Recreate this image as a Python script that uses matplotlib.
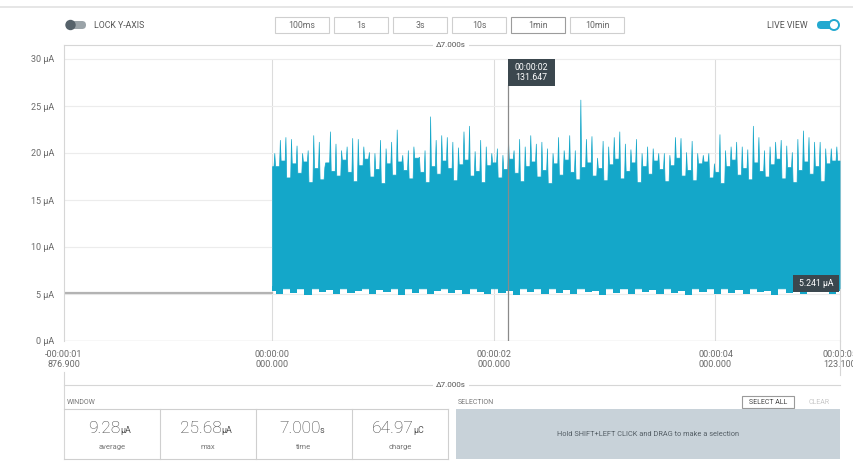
import matplotlib
matplotlib.use("Agg")
import matplotlib.pyplot as plt
from matplotlib.patches import Rectangle, FancyBboxPatch
import numpy as np

plt.rcParams['font.family'] = ['Roboto', 'DejaVu Sans']

# ---- data ------------------------------------------------------------------
T_START = -1.8769          # s, left edge of the 7.000 s window
T_END = 5.1231             # s, right edge
IDLE_CURRENT = 5.1         # uA before the burst starts at t = 0
CURSOR_T = 2.131647
CURSOR_LABEL = "00:00:02\n131.647"
VALUE_LABEL = "5.241 µA"

# spike tops (uA), left to right, evenly spread over 0 .. 5.1 s
peaks = [
    20.0, 21.4, 21.7, 21.5, 20.8, 20.0, 20.3, 21.9, 21.2, 18.5,
    22.3, 21.0, 20.3, 20.7, 21.6, 21.5, 20.7, 20.1, 20.0, 21.4,
    20.5, 21.2, 22.5, 19.8, 20.3, 20.7, 19.6, 20.3, 23.9, 21.4,
    21.9, 21.7, 21.2, 20.6, 22.3, 22.9, 20.2, 21.4, 20.7, 20.0,
    20.5, 19.8, 21.4, 20.3, 21.5, 20.7, 21.9, 21.0, 21.2, 20.5,
    20.0, 21.7, 20.3, 21.9, 20.3, 25.68, 21.5, 21.8, 19.5, 21.3,
    20.7, 21.7, 22.3, 21.0, 20.4, 21.5, 20.0, 20.7, 20.5, 20.0,
    20.0, 19.8, 21.7, 21.6, 20.1, 21.3, 20.0, 19.8, 20.0, 18.9,
    22.0, 20.3, 20.7, 21.2, 20.7, 20.4, 22.9, 21.7, 20.3, 20.7,
    21.2, 21.4, 20.8, 20.1, 21.5, 22.4, 21.7, 21.2, 21.2, 20.5,
    20.5, 20.7,
]
# level of the dense band between neighbouring spikes (uA)
valleys = [
    18.6, 19.2, 17.4, 18.9, 17.9, 19.1, 16.9, 18.4, 17.2, 19.0,
    18.1, 17.6, 19.3, 18.0, 17.0, 18.7, 19.4, 17.5, 18.3, 16.8,
    18.9, 17.7, 19.1, 18.2, 17.3, 19.5, 18.0, 16.9, 18.6, 17.8,
    19.2, 18.4, 17.1, 18.8, 19.3, 17.6, 18.1, 16.9, 18.7, 19.0,
    17.4, 18.3, 19.4, 17.9, 17.0, 18.6, 19.1, 17.5, 18.2, 16.8,
    18.9, 17.7, 19.3, 18.0, 17.2, 18.5, 19.0, 17.6, 18.4, 17.1,
    18.8, 19.4, 17.3, 18.1, 19.0, 16.9, 18.6, 17.8, 19.2, 18.3,
    17.0, 18.7, 19.5, 17.6, 18.2, 17.1, 18.9, 19.1, 17.4, 18.0,
    16.8, 18.6, 19.3, 17.7, 18.4, 17.2, 19.0, 18.1, 17.5, 18.8,
    19.4, 17.3, 18.5, 16.9, 18.2, 19.1, 17.8, 18.6, 17.0, 18.9,
    19.2,
]
# lower edge of the burst (uA)
floor_vals = [
    5.3, 5.0, 5.7, 5.1, 5.5, 4.9, 5.8, 5.2, 5.4, 5.0,
    5.9, 5.1, 5.3, 5.6, 5.0, 5.4, 5.2, 5.8, 4.9, 5.5,
    5.1, 5.7, 5.0, 5.3, 5.9, 5.1, 5.4, 5.0, 5.6, 5.2,
    5.0, 5.8, 5.1, 5.3, 4.9, 5.6, 5.2, 5.5, 5.0, 5.7,
    5.1, 5.4, 5.0, 5.9, 5.2, 5.3, 4.9, 5.6, 5.1, 5.5,
    5.0, 5.7, 5.2, 5.4, 5.0, 5.8, 5.1, 5.3, 4.9, 5.6,
    5.2, 5.5, 5.0, 5.9, 5.1, 5.4, 5.0, 5.7, 5.2, 5.3,
    4.9, 5.6, 5.1, 5.8, 5.0, 5.4, 5.2, 5.6, 5.0, 5.3,
]

y_ticks = [0, 5, 10, 15, 20, 25, 30]
y_labels = [f"{v} µA" for v in y_ticks]
x_ticks = [T_START, 0, 2, 4, T_END]
x_labels = ["-00:00:01\n876.900", "00:00:00\n000.000", "00:00:02\n000.000",
            "00:00:04\n000.000", "00:00:05\n123.100"]

time_buttons = ["100ms", "1s", "3s", "10s", "1min", "10min"]
stat_values = ["9.28", "25.68", "7.000", "64.97"]
stat_units = ["µA", "µA", "s", "µC"]
stat_names = ["average", "max", "time", "charge"]
window_label = "Δ7.000s"

# ---- style ------------------------------------------------------------------
CYAN = "#14a7c9"
DARK = "#3b474e"
GRID = "#ececec"
EDGE = "#d6d6d6"
TXT = "#6a6a6a"

W, H = 854, 463
fig = plt.figure(figsize=(W / 100, H / 100), dpi=100)
fig.patch.set_facecolor("white")

# main chart: pixels x 64..840, y 45..341 ; 9.4 px per uA
ax = fig.add_axes([64 / W, 1 - 341 / H, 776 / W, 296 / H])
ax.set_xlim(T_START, T_END)
ax.set_ylim(0, 296 / 9.4)

for s in ("top", "bottom"):
    ax.spines[s].set_visible(False)
for s in ("left", "right"):
    ax.spines[s].set_color(EDGE)
    ax.spines[s].set_linewidth(0.8)

ax.set_yticks(y_ticks, y_labels)
ax.set_xticks(x_ticks, x_labels)
ax.tick_params(axis="y", length=0, pad=7, labelsize=6.5, labelcolor=TXT)
ax.tick_params(axis="x", length=0, pad=6.5, labelsize=6.5, labelcolor=TXT)
ax.yaxis.grid(True, color=GRID, lw=0.8)
ax.axhline(0, color="#d0d0d0", lw=0.9)
ax.vlines([0, 2, 4], 0, 30, color="#dcdcdc", lw=0.8, zorder=0)
ax.set_axisbelow(True)

# idle baseline before the burst
ax.plot([T_START, 0], [IDLE_CURRENT, IDLE_CURRENT], color="#b3b3b3", lw=1.6, zorder=2)

# burst: jagged band + narrow spikes
n = len(peaks)
t_end_data = T_END - 0.004
tp = np.linspace(0.02, 5.09, n)
d = 0.007
xs, ys = [0.0], [valleys[0]]
for i in range(n):
    left = valleys[i - 1] if i > 0 else valleys[0]
    right = valleys[i] if i < n - 1 else valleys[-1]
    xs += [tp[i] - d, tp[i], tp[i] + d]
    ys += [left, peaks[i], right]
xs.append(t_end_data)
ys.append(valleys[-1])
ax.fill_between(xs, 5.6, ys, color=CYAN, lw=0.5, edgecolor=CYAN, zorder=3)

# ragged bottom edge of the band
t_floor = np.linspace(0.0, t_end_data, len(floor_vals))
ax.fill_between(t_floor, floor_vals, 5.8, step="mid", color=CYAN, lw=0, zorder=3)

# cursor
ax.vlines(CURSOR_T, 0, 27.25, color="#8a8a8a", lw=0.9, zorder=4)

# ---- UI overlay in pixel coordinates ---------------------------------------
ui = fig.add_axes([0, 0, 1, 1], zorder=10)
ui.set_xlim(0, W)
ui.set_ylim(H, 0)
ui.axis("off")
ui.patch.set_alpha(0)

ui.plot([0, W], [7, 7], color="#e2e2e2", lw=1.2)

# LOCK Y-AXIS toggle
ui.add_patch(FancyBboxPatch((66, 21), 20, 8, boxstyle="round,pad=0,rounding_size=4",
                            fc="#9aa3a8", ec="none"))
ui.add_patch(plt.Circle((70.5, 25), 5.2, fc="#56626a", ec="none"))
ui.text(94, 25.5, "LOCK Y-AXIS", fontsize=6.3, color="#555555", va="center")

# time-span buttons
for i, lab in enumerate(time_buttons):
    x0 = 275 + i * 59
    ec = "#9c9c9c" if lab == "1min" else "#cfcfcf"
    ui.add_patch(Rectangle((x0, 17), 54, 16, fc="white", ec=ec, lw=0.8))
    ui.text(x0 + 27, 25.5, lab, fontsize=6.3, color="#666666", ha="center", va="center")

# LIVE VIEW toggle
ui.text(808, 25.5, "LIVE VIEW", fontsize=6.3, color="#555555", ha="right", va="center")
ui.add_patch(FancyBboxPatch((817, 21), 20, 8, boxstyle="round,pad=0,rounding_size=4",
                            fc="#23a9d0", ec="none"))
ui.add_patch(plt.Circle((834, 25), 5.0, fc="white", ec="#23a9d0", lw=1.4))

# window rulers
for yy in (45, 385):
    ui.plot([64, 840], [yy, yy], color=EDGE, lw=0.8)
    ui.text(451, yy, window_label, fontsize=5.8, color="#555555", ha="center", va="center",
            bbox=dict(boxstyle="square,pad=0.4", fc="white", ec="none"))
ui.plot([64, 64], [372, 459], color=EDGE, lw=0.8)
ui.plot([840, 840], [341, 375], color=EDGE, lw=0.8)

# cursor tooltip + value tag
ui.add_patch(Rectangle((508, 59), 47, 27, fc=DARK, ec="none"))
ui.text(531.5, 72.5, CURSOR_LABEL, fontsize=6.3, color="white", ha="center", va="center",
        linespacing=1.1)
ui.add_patch(Rectangle((793, 275), 46, 17, fc=DARK, ec="none"))
ui.text(816, 283.5, VALUE_LABEL, fontsize=6.3, color="white", ha="center", va="center")

# WINDOW statistics
ui.text(67, 402, "WINDOW", fontsize=5, color="#777777", va="center")
ui.plot([64, 448], [409, 409], color="#cfcfcf", lw=0.8)
ui.plot([64, 448], [459, 459], color="#cfcfcf", lw=0.8)
for x in (160, 256, 352, 448):
    ui.plot([x, x], [409, 459], color="#cfcfcf", lw=0.8)

renderer = fig.canvas.get_renderer()
for i, (val, unit, name) in enumerate(zip(stat_values, stat_units, stat_names)):
    cx = 110 + i * 96
    t1 = ui.text(0, 433, val, fontsize=12.5, color="#444444", va="baseline",
                 fontweight="light")
    t2 = ui.text(0, 433, unit, fontsize=6.5, color="#555555", va="baseline")
    w1 = t1.get_window_extent(renderer).width
    w2 = t2.get_window_extent(renderer).width
    x0 = cx - (w1 + w2) / 2
    t1.set_x(x0)
    t2.set_x(x0 + w1 - 0.5)
    ui.text(cx + 2, 447, name, fontsize=5.5, color="#777777", ha="center", va="center")

# SELECTION panel
ui.text(458, 402, "SELECTION", fontsize=5, color="#777777", va="center")
ui.add_patch(Rectangle((742, 396), 52, 12, fc="white", ec="#9a9a9a", lw=0.8))
ui.text(768, 402, "SELECT ALL", fontsize=5, color="#444444", ha="center", va="center")
ui.text(819, 402, "CLEAR", fontsize=5, color="#c8c8c8", ha="center", va="center")
ui.add_patch(Rectangle((456, 409), 384, 50, fc="#c8d2d9", ec="none"))
ui.text(648, 435, "Hold SHIFT+LEFT CLICK and DRAG to make a selection", fontsize=5.3,
        color="#555f66", ha="center", va="center")

fig.savefig("out.png", dpi=100)
